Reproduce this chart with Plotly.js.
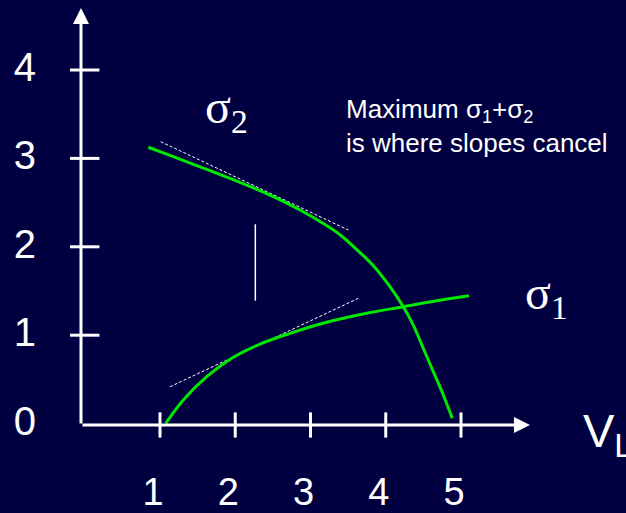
<!DOCTYPE html>
<html><head><meta charset="utf-8">
<script src="https://cdn.plot.ly/plotly-3.0.1.min.js"></script>
<style>html,body{margin:0;padding:0;background:#000040;}</style>
</head><body><div id="chart" style="width:626px;height:513px;"></div>
<script>
// sigma2 curve (decreasing)
const sigma2X = [0.845, 1.177, 1.621, 2.063, 2.506, 2.860, 3.170, 3.392, 3.614, 3.835, 4.056, 4.233, 4.366, 4.499, 4.632, 4.765, 4.884];
const sigma2Y = [3.126, 3.019, 2.876, 2.730, 2.567, 2.416, 2.264, 2.137, 1.969, 1.786, 1.549, 1.322, 1.115, 0.852, 0.587, 0.324, 0.060];
// sigma1 curve (increasing)
const sigma1X = [1.076, 1.310, 1.621, 1.974, 2.329, 2.728, 3.215, 3.747, 4.233, 4.677, 5.106];
const sigma1Y = [0.003, 0.267, 0.531, 0.750, 0.900, 1.021, 1.146, 1.248, 1.322, 1.390, 1.447];
// tangent lines (dotted)
const tangent2X = [1.009, 3.503];
const tangent2Y = [3.189, 2.190];
const tangent1X = [1.133, 3.635];
const tangent1Y = [0.417, 1.417];
// vertical marker
const markX = [2.267, 2.267];
const markY = [1.390, 2.255];
// ticks
const xTicks = [1, 2, 3, 4, 5];
const xTickLabels = ['1', '2', '3', '4', '5'];
const yTicks = [1, 2, 3, 4];
const yLabelVals = [0, 1, 2, 3, 4];
const yTickLabels = ['0', '1', '2', '3', '4'];
// axis extents
const xAxisStart = -0.0498, xAxisEnd = 5.917;
const yAxisStart = -0.0158, yAxisEnd = 4.701;

const GREEN = '#00e800';
const WHITE = '#ffffff';
const BG = '#000040';

const traces = [
  {x: tangent2X, y: tangent2Y, mode: 'lines', line: {color: WHITE, width: 1, dash: '3px,2px'}, hoverinfo: 'skip'},
  {x: tangent1X, y: tangent1Y, mode: 'lines', line: {color: WHITE, width: 1, dash: '3px,2px'}, hoverinfo: 'skip'},
  {x: sigma2X, y: sigma2Y, mode: 'lines', line: {color: GREEN, width: 3, shape: 'spline', smoothing: 1}, name: 'σ2'},
  {x: sigma1X, y: sigma1Y, mode: 'lines', line: {color: GREEN, width: 3, shape: 'spline', smoothing: 1}, name: 'σ1'},
  {x: markX, y: markY, mode: 'lines', line: {color: WHITE, width: 1.5}, hoverinfo: 'skip'},
  {x: xTicks, y: xTicks.map(() => yAxisStart), mode: 'markers', cliponaxis: false,
   marker: {symbol: 'line-ns', size: 18, line: {color: WHITE, width: 3}}, hoverinfo: 'skip'},
  {x: yTicks.map(() => 0), y: yTicks, mode: 'markers', cliponaxis: false,
   marker: {symbol: 'line-ew', size: 21, line: {color: WHITE, width: 3}}, hoverinfo: 'skip'}
];

const layout = {
  width: 626, height: 513,
  paper_bgcolor: BG, plot_bgcolor: BG,
  showlegend: false,
  margin: {l: 81, r: 0, t: 0, b: 88, pad: 0},
  xaxis: {
    range: [-0.0498, 7.1927], showgrid: false, zeroline: false, showline: false,
    ticks: '', tickvals: xTicks, ticktext: xTickLabels,
    tickfont: {family: 'Liberation Sans, Arial, sans-serif', size: 38, color: WHITE},
    ticklabelstandoff: 41, ticklabelshift: -7
  },
  yaxis: {
    range: [-0.0158, 4.7919], showgrid: false, zeroline: false, showline: false,
    ticks: '', tickvals: yLabelVals, ticktext: yTickLabels,
    tickfont: {family: 'Liberation Sans, Arial, sans-serif', size: 40, color: WHITE},
    ticklabelstandoff: 44, ticklabelshift: -3
  },
  annotations: [
    {x: xAxisEnd, y: yAxisStart, ax: xAxisStart, ay: yAxisStart, axref: 'x', ayref: 'y',
     xref: 'x', yref: 'y', text: '', showarrow: true, arrowhead: 2, arrowwidth: 3, arrowsize: 1.07, arrowcolor: WHITE, standoff: 0},
    {x: xAxisStart, y: yAxisEnd, ax: xAxisStart, ay: yAxisStart, axref: 'x', ayref: 'y',
     xref: 'x', yref: 'y', text: '', showarrow: true, arrowhead: 2, arrowwidth: 3, arrowsize: 1.07, arrowcolor: WHITE, standoff: 0},
    {x: 1.571, y: 3.55, xref: 'x', yref: 'y', xanchor: 'left', yanchor: 'middle', showarrow: false,
     text: 'σ<sub>2</sub>', font: {family: 'Liberation Serif, Times New Roman, serif', size: 48, color: WHITE}},
    {x: 5.824, y: 1.44, xref: 'x', yref: 'y', xanchor: 'left', yanchor: 'middle', showarrow: false,
     text: 'σ<sub>1</sub>', font: {family: 'Liberation Serif, Times New Roman, serif', size: 48, color: WHITE}},
    {x: 3.44, y: 3.37, xref: 'x', yref: 'y', xanchor: 'left', yanchor: 'middle', align: 'left', showarrow: false,
     text: 'Maximum σ<sub>1</sub>+σ<sub>2</sub><br>is where slopes cancel',
     font: {family: 'Liberation Sans, Arial, sans-serif', size: 26, color: WHITE}},
    {x: 0.917, y: -0.02, xref: 'paper', yref: 'paper', xanchor: 'left', yanchor: 'middle', showarrow: false,
     text: 'V<sub>L</sub>', font: {family: 'Liberation Sans, Arial, sans-serif', size: 47, color: WHITE}}
  ]
};

Plotly.newPlot('chart', traces, layout, {displayModeBar: false, staticPlot: true});
</script>
</body></html>
